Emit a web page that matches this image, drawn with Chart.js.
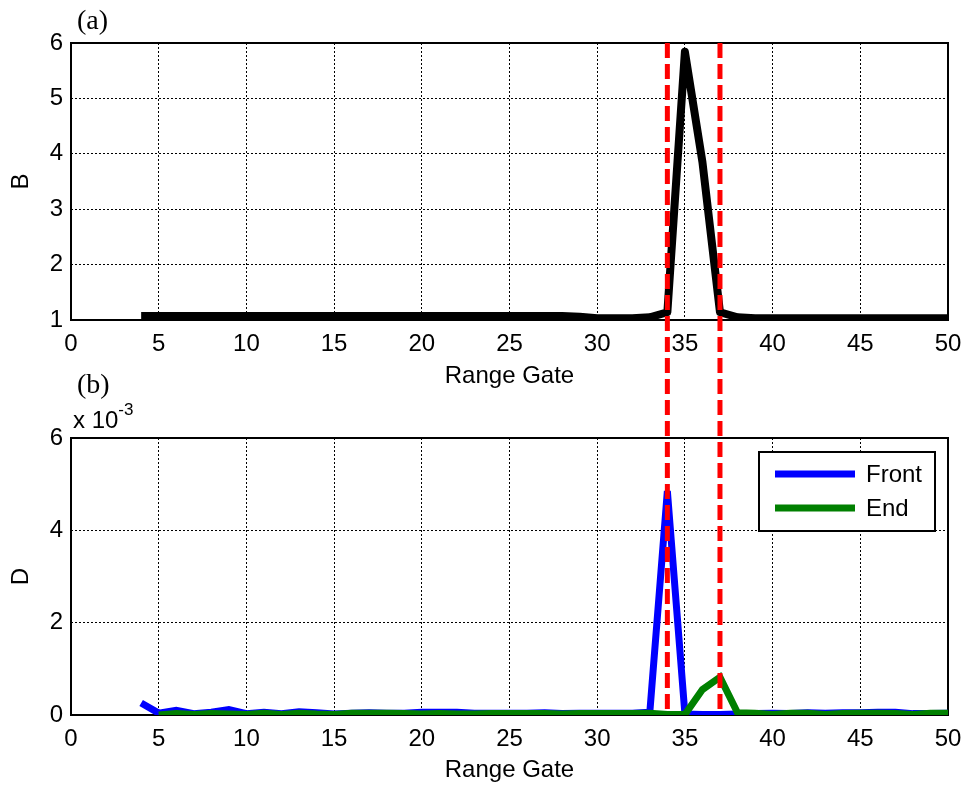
<!DOCTYPE html>
<html lang="en">
<head>
<meta charset="UTF-8" />
<title>B and D versus Range Gate</title>
<script src="https://cdn.jsdelivr.net/npm/chart.js"></script>
<style>
  body { margin: 0; background: #fff; }
  #wrap { position: relative; width: 967px; height: 789px; background: #fff; }
  #wrap canvas { position: absolute; left: 0; }
  #topChart { top: 0; width: 967px; height: 400px; }
  #botChart { top: 360px; width: 967px; height: 429px; }
</style>
</head>
<body>
<div id="wrap">
  <canvas id="topChart" width="967" height="400"></canvas>
  <canvas id="botChart" width="967" height="429"></canvas>
</div>

<script>
// range gates 4..50
const gates = [4, 5, 6, 7, 8, 9, 10, 11, 12, 13, 14, 15, 16, 17, 18, 19, 20, 21, 22, 23, 24, 25, 26, 27,
  28, 29, 30, 31, 32, 33, 34, 35, 36, 37, 38, 39, 40, 41, 42, 43, 44, 45, 46, 47, 48, 49, 50];

// (a) B
const bValues = [1.07, 1.07, 1.07, 1.07, 1.07, 1.07, 1.07, 1.07, 1.07, 1.07, 1.07, 1.07, 1.07, 1.07, 1.07, 1.07,
  1.07, 1.07, 1.07, 1.07, 1.07, 1.07, 1.07, 1.07, 1.07, 1.06, 1.03, 1.03, 1.03, 1.05, 1.14, 5.84, 3.85, 1.14,
  1.05, 1.03, 1.03, 1.03, 1.03, 1.03, 1.03, 1.03, 1.03, 1.03, 1.03, 1.03, 1.03];

// (b) D, in units of 1e-3
const frontD = [0.26, 0.04, 0.10, 0.03, 0.06, 0.12, 0.03, 0.06, 0.03, 0.07, 0.05, 0.02, 0.04, 0.05, 0.04, 0.04,
  0.06, 0.06, 0.06, 0.04, 0.04, 0.04, 0.04, 0.05, 0.03, 0.04, 0.04, 0.04, 0.04, 0.06, 4.85, 0.02, 0.01, 0.01,
  0.02, 0.03, 0.04, 0.03, 0.05, 0.04, 0.05, 0.05, 0.06, 0.06, 0.03, 0.03, 0.04];
const endD = [null, 0.00, 0.03, 0.01, 0.03, 0.02, 0.01, 0.04, 0.01, 0.04, 0.02, 0.01, 0.04, 0.04, 0.04, 0.03,
  0.02, 0.03, 0.02, 0.02, 0.03, 0.03, 0.03, 0.03, 0.02, 0.03, 0.03, 0.03, 0.03, 0.04, 0.01, 0.01, 0.55, 0.82,
  0.05, 0.04, 0.01, 0.04, 0.04, 0.01, 0.03, 0.04, 0.04, 0.03, 0.01, 0.04, 0.04];

// red dashed boundaries
const markerGates = [34, 37];

const FONT = "'Liberation Sans', Arial, sans-serif";
const SERIF = "'Liberation Serif', 'Times New Roman', serif";
const BOT_OFFSET = 360;   // page y of the lower canvas
const SPLIT = 380;        // page y where the red lines pass from one canvas to the other

Chart.defaults.font.family = FONT;
Chart.defaults.font.size = 24;
Chart.defaults.color = '#000';

const pts = vals => gates.map((g, i) => ({ x: g, y: vals[i] }));

// box, red dashed lines, panel letters, exponent, legend
const decor = {
  id: 'decor',
  beforeDatasetsDraw(chart) {
    const { ctx, chartArea: a } = chart;
    ctx.save();
    ctx.strokeStyle = '#000';
    ctx.lineWidth = 2;
    ctx.strokeRect(a.left, a.top, a.right - a.left, a.bottom - a.top);
    ctx.restore();
  },
  afterDatasetsDraw(chart, args, o) {
    const { ctx, chartArea: a, scales: { x } } = chart;
    ctx.save();
    ctx.strokeStyle = '#ff0000';
    ctx.lineWidth = 5;
    ctx.setLineDash([15, 6]);
    ctx.lineDashOffset = o.dashOffset || 0;
    const y0 = o.redTop != null ? o.redTop : a.top;
    const y1 = o.redBottom != null ? o.redBottom : a.bottom;
    markerGates.forEach(g => {
      const px = x.getPixelForValue(g);
      ctx.beginPath();
      ctx.moveTo(px, y0);
      ctx.lineTo(px, y1);
      ctx.stroke();
    });
    ctx.restore();

    if (o.legend) {
      const lx = a.right - 189, ly = a.top + 14, lw = 176, lh = 79;
      ctx.save();
      ctx.fillStyle = '#fff';
      ctx.fillRect(lx, ly, lw, lh);
      ctx.strokeStyle = '#000';
      ctx.lineWidth = 2;
      ctx.strokeRect(lx, ly, lw, lh);
      ctx.font = '24px ' + FONT;
      ctx.textBaseline = 'middle';
      ctx.fillStyle = '#000';
      chart.data.datasets.forEach((ds, i) => {
        const cy = ly + 22 + i * 34;
        ctx.strokeStyle = ds.borderColor;
        ctx.lineWidth = 7;
        ctx.beginPath();
        ctx.moveTo(lx + 16, cy);
        ctx.lineTo(lx + 96, cy);
        ctx.stroke();
        ctx.fillText(ds.label, lx + 107, cy + 1);
      });
      ctx.restore();
    }
  },
  afterDraw(chart, args, o) {
    const { ctx, chartArea: a } = chart;
    ctx.save();
    ctx.fillStyle = '#000';
    ctx.textBaseline = 'alphabetic';
    ctx.font = '28px ' + SERIF;
    ctx.fillText(o.panel, a.left + 6, a.top - o.panelGap);
    if (o.exponent) {
      ctx.font = '24px ' + FONT;
      ctx.fillText('x 10', a.left + 2, a.top - 10);
      const w = ctx.measureText('x 10').width;
      ctx.font = '17px ' + FONT;
      ctx.fillText(o.exponent, a.left + 2 + w, a.top - 23);
    }
    ctx.restore();
  }
};

function xAxis(height, titlePad) {
  return {
    type: 'linear', min: 0, max: 50,
    ticks: { stepSize: 5, padding: 10, maxRotation: 0, autoSkip: false },
    grid: { color: '#000', lineWidth: 1, drawTicks: false },
    border: { display: false, dash: [2, 2] },
    title: { display: true, text: 'Range Gate', padding: { top: 0, bottom: titlePad } },
    afterFit: s => { s.height = height; s.paddingLeft = 0; s.paddingRight = 0; }
  };
}

function yAxis(min, max, step, label) {
  return {
    min: min, max: max,
    ticks: { stepSize: step, padding: 8 },
    grid: { color: '#000', lineWidth: 1, drawTicks: false },
    border: { display: false, dash: [2, 2] },
    title: { display: true, text: label, padding: { top: 7, bottom: 0 } },
    afterFit: s => { s.width = 71; s.paddingTop = 0; s.paddingBottom = 0; }
  };
}

const topChart = new Chart(document.getElementById('topChart'), {
  type: 'line',
  data: {
    datasets: [{
      label: 'B', data: pts(bValues), borderColor: '#000', borderWidth: 8,
      pointRadius: 0, tension: 0, borderJoinStyle: 'round'
    }]
  },
  options: {
    responsive: false, animation: false,
    layout: { padding: { left: 0, right: 19, top: 43, bottom: 0 } },
    scales: { x: xAxis(80, 9), y: yAxis(1, 6, 1, 'B') },
    plugins: {
      legend: { display: false }, tooltip: { enabled: false },
      decor: { panel: '(a)', panelGap: 14, redBottom: SPLIT }
    }
  },
  plugins: [decor]
});

new Chart(document.getElementById('botChart'), {
  type: 'line',
  data: {
    datasets: [
      { label: 'Front', data: pts(frontD), borderColor: '#0000ff', borderWidth: 7,
        pointRadius: 0, tension: 0, order: 2 },
      { label: 'End', data: pts(endD), borderColor: '#008000', borderWidth: 7,
        pointRadius: 0, tension: 0, order: 1 }
    ]
  },
  options: {
    responsive: false, animation: false,
    layout: { padding: { left: 0, right: 19, top: 78, bottom: 0 } },
    scales: { x: xAxis(74, 4), y: yAxis(0, 6, 2, 'D') },
    plugins: {
      legend: { display: false }, tooltip: { enabled: false },
      decor: {
        panel: '(b)', panelGap: 45, exponent: '-3', legend: true,
        redTop: SPLIT - BOT_OFFSET, dashOffset: SPLIT - topChart.chartArea.top
      }
    }
  },
  plugins: [decor]
});
</script>
</body>
</html>
